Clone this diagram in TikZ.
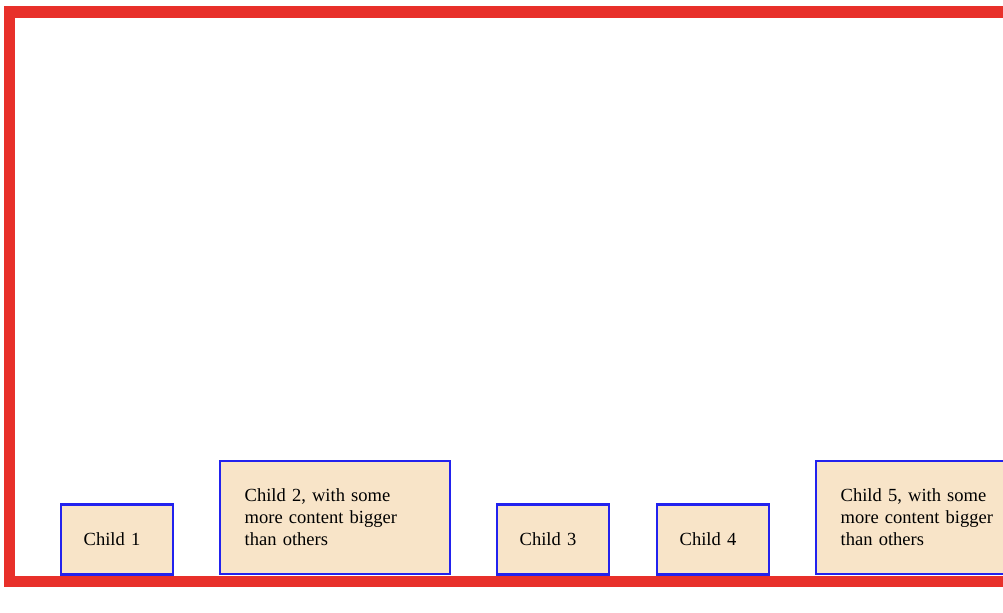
\documentclass[tikz,border=0pt]{standalone}
\usepackage{fontspec}
\setmainfont{Liberation Serif}
\definecolor{frame}{HTML}{E8302A}
\definecolor{boxfill}{HTML}{F8E4C8}
\definecolor{boxline}{HTML}{2222EE}
\tikzset{
  child/.style={draw=boxline, fill=boxfill, line width=1.8pt, outer sep=0pt,
    anchor=south west, inner ysep=0pt, align=left,
    font=\fontsize{13.9pt}{16.5pt}\selectfont},
  small/.style={child, inner xsep=17pt, minimum width=84pt, minimum height=52.5pt, text width=50pt},
  big/.style={child, inner xsep=18.5pt, minimum width=172.5pt, minimum height=84.75pt, text width=135.5pt}
}
\begin{document}
\begin{tikzpicture}[x=0.75pt,y=-0.75pt]
\useasboundingbox (0,0) rectangle (1003,613);
\fill[white] (0,0) rectangle (1003,613);
\clip (0,0) rectangle (1003,613);
\draw[frame, line width=8.6pt] (9.5,12) rectangle (1040,581.5);
\node[small] (c1) at (61,574.5) {Child 1};
\node[big] (c2) at (220,573.8) {Child 2, with some\\more content bigger\\than others};
\node[small] (c3) at (497,574.5) {Child 3};
\node[small] (c4) at (657,574.5) {Child 4};
\node[big] (c5) at (816,573.8) {Child 5, with some\\more content bigger\\than others};
\end{tikzpicture}
\end{document}
